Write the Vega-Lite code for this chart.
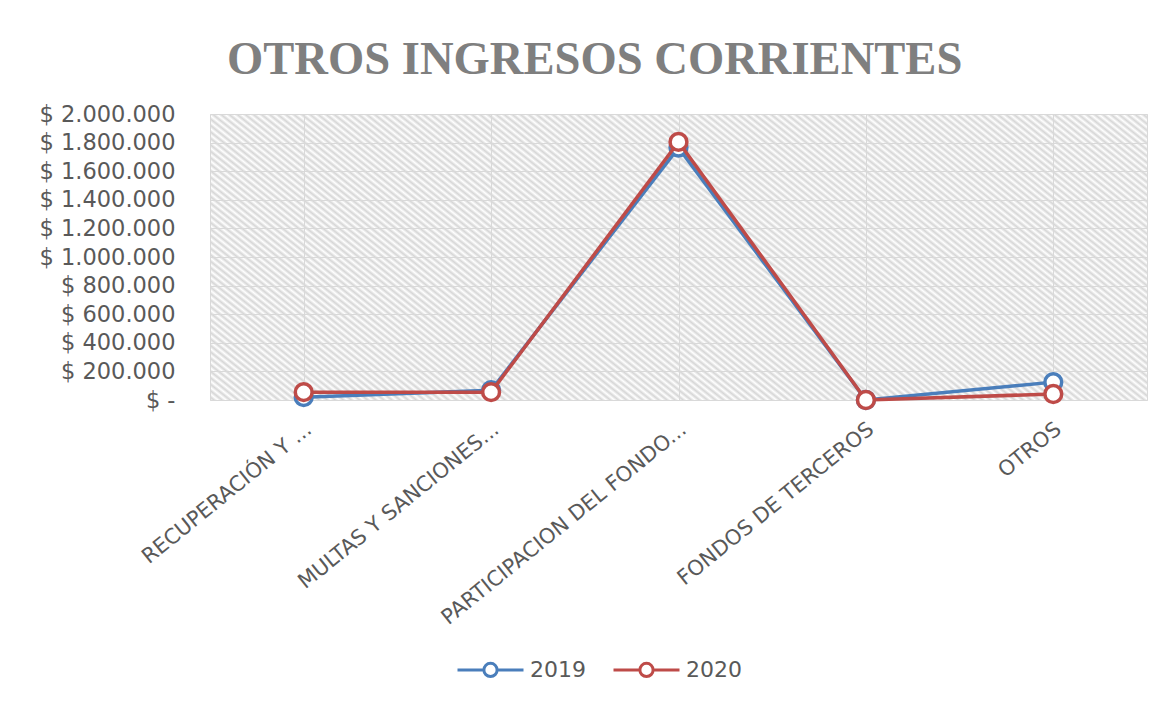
{
  "$schema": "https://vega.github.io/schema/vega-lite/v6.json",
  "width": 937,
  "height": 286,
  "autosize": {"type": "none"},
  "padding": {"left": 210, "top": 114, "right": 23, "bottom": 302},
  "background": "white",
  "title": {
    "text": "OTROS INGRESOS CORRIENTES",
    "anchor": "start",
    "frame": "group",
    "dx": 17,
    "dy": 57,
    "offset": 39,
    "baseline": "alphabetic",
    "font": "Liberation Serif",
    "fontSize": 46.6,
    "fontWeight": "bold",
    "color": "#7f7f7f"
  },
  "config": {
    "view": {
      "stroke": "#d9d9d9",
      "strokeWidth": 1,
      "fill": {
        "gradient": "linear",
        "x1": 0, "y1": 1, "x2": 1.2059, "y2": 0.5399,
        "stops": [
          {"offset":0,"color":"#fff"},{"offset":0.003125,"color":"#d6d6d6"},{"offset":0.00625,"color":"#fff"},{"offset":0.009375,"color":"#d6d6d6"},{"offset":0.0125,"color":"#fff"},{"offset":0.015625,"color":"#d6d6d6"},{"offset":0.01875,"color":"#fff"},{"offset":0.021875,"color":"#d6d6d6"},{"offset":0.025,"color":"#fff"},{"offset":0.028125,"color":"#d6d6d6"},{"offset":0.03125,"color":"#fff"},{"offset":0.034375,"color":"#d6d6d6"},{"offset":0.0375,"color":"#fff"},{"offset":0.040625,"color":"#d6d6d6"},{"offset":0.04375,"color":"#fff"},{"offset":0.046875,"color":"#d6d6d6"},{"offset":0.05,"color":"#fff"},{"offset":0.053125,"color":"#d6d6d6"},{"offset":0.05625,"color":"#fff"},{"offset":0.059375,"color":"#d6d6d6"},{"offset":0.0625,"color":"#fff"},{"offset":0.065625,"color":"#d6d6d6"},{"offset":0.06875,"color":"#fff"},{"offset":0.071875,"color":"#d6d6d6"},{"offset":0.075,"color":"#fff"},{"offset":0.078125,"color":"#d6d6d6"},{"offset":0.08125,"color":"#fff"},{"offset":0.084375,"color":"#d6d6d6"},{"offset":0.0875,"color":"#fff"},{"offset":0.090625,"color":"#d6d6d6"},{"offset":0.09375,"color":"#fff"},{"offset":0.096875,"color":"#d6d6d6"},
          {"offset":0.1,"color":"#fff"},{"offset":0.103125,"color":"#d6d6d6"},{"offset":0.10625,"color":"#fff"},{"offset":0.109375,"color":"#d6d6d6"},{"offset":0.1125,"color":"#fff"},{"offset":0.115625,"color":"#d6d6d6"},{"offset":0.11875,"color":"#fff"},{"offset":0.121875,"color":"#d6d6d6"},{"offset":0.125,"color":"#fff"},{"offset":0.128125,"color":"#d6d6d6"},{"offset":0.13125,"color":"#fff"},{"offset":0.134375,"color":"#d6d6d6"},{"offset":0.1375,"color":"#fff"},{"offset":0.140625,"color":"#d6d6d6"},{"offset":0.14375,"color":"#fff"},{"offset":0.146875,"color":"#d6d6d6"},{"offset":0.15,"color":"#fff"},{"offset":0.153125,"color":"#d6d6d6"},{"offset":0.15625,"color":"#fff"},{"offset":0.159375,"color":"#d6d6d6"},{"offset":0.1625,"color":"#fff"},{"offset":0.165625,"color":"#d6d6d6"},{"offset":0.16875,"color":"#fff"},{"offset":0.171875,"color":"#d6d6d6"},{"offset":0.175,"color":"#fff"},{"offset":0.178125,"color":"#d6d6d6"},{"offset":0.18125,"color":"#fff"},{"offset":0.184375,"color":"#d6d6d6"},{"offset":0.1875,"color":"#fff"},{"offset":0.190625,"color":"#d6d6d6"},{"offset":0.19375,"color":"#fff"},{"offset":0.196875,"color":"#d6d6d6"},
          {"offset":0.2,"color":"#fff"},{"offset":0.203125,"color":"#d6d6d6"},{"offset":0.20625,"color":"#fff"},{"offset":0.209375,"color":"#d6d6d6"},{"offset":0.2125,"color":"#fff"},{"offset":0.215625,"color":"#d6d6d6"},{"offset":0.21875,"color":"#fff"},{"offset":0.221875,"color":"#d6d6d6"},{"offset":0.225,"color":"#fff"},{"offset":0.228125,"color":"#d6d6d6"},{"offset":0.23125,"color":"#fff"},{"offset":0.234375,"color":"#d6d6d6"},{"offset":0.2375,"color":"#fff"},{"offset":0.240625,"color":"#d6d6d6"},{"offset":0.24375,"color":"#fff"},{"offset":0.246875,"color":"#d6d6d6"},{"offset":0.25,"color":"#fff"},{"offset":0.253125,"color":"#d6d6d6"},{"offset":0.25625,"color":"#fff"},{"offset":0.259375,"color":"#d6d6d6"},{"offset":0.2625,"color":"#fff"},{"offset":0.265625,"color":"#d6d6d6"},{"offset":0.26875,"color":"#fff"},{"offset":0.271875,"color":"#d6d6d6"},{"offset":0.275,"color":"#fff"},{"offset":0.278125,"color":"#d6d6d6"},{"offset":0.28125,"color":"#fff"},{"offset":0.284375,"color":"#d6d6d6"},{"offset":0.2875,"color":"#fff"},{"offset":0.290625,"color":"#d6d6d6"},{"offset":0.29375,"color":"#fff"},{"offset":0.296875,"color":"#d6d6d6"},
          {"offset":0.3,"color":"#fff"},{"offset":0.303125,"color":"#d6d6d6"},{"offset":0.30625,"color":"#fff"},{"offset":0.309375,"color":"#d6d6d6"},{"offset":0.3125,"color":"#fff"},{"offset":0.315625,"color":"#d6d6d6"},{"offset":0.31875,"color":"#fff"},{"offset":0.321875,"color":"#d6d6d6"},{"offset":0.325,"color":"#fff"},{"offset":0.328125,"color":"#d6d6d6"},{"offset":0.33125,"color":"#fff"},{"offset":0.334375,"color":"#d6d6d6"},{"offset":0.3375,"color":"#fff"},{"offset":0.340625,"color":"#d6d6d6"},{"offset":0.34375,"color":"#fff"},{"offset":0.346875,"color":"#d6d6d6"},{"offset":0.35,"color":"#fff"},{"offset":0.353125,"color":"#d6d6d6"},{"offset":0.35625,"color":"#fff"},{"offset":0.359375,"color":"#d6d6d6"},{"offset":0.3625,"color":"#fff"},{"offset":0.365625,"color":"#d6d6d6"},{"offset":0.36875,"color":"#fff"},{"offset":0.371875,"color":"#d6d6d6"},{"offset":0.375,"color":"#fff"},{"offset":0.378125,"color":"#d6d6d6"},{"offset":0.38125,"color":"#fff"},{"offset":0.384375,"color":"#d6d6d6"},{"offset":0.3875,"color":"#fff"},{"offset":0.390625,"color":"#d6d6d6"},{"offset":0.39375,"color":"#fff"},{"offset":0.396875,"color":"#d6d6d6"},
          {"offset":0.4,"color":"#fff"},{"offset":0.403125,"color":"#d6d6d6"},{"offset":0.40625,"color":"#fff"},{"offset":0.409375,"color":"#d6d6d6"},{"offset":0.4125,"color":"#fff"},{"offset":0.415625,"color":"#d6d6d6"},{"offset":0.41875,"color":"#fff"},{"offset":0.421875,"color":"#d6d6d6"},{"offset":0.425,"color":"#fff"},{"offset":0.428125,"color":"#d6d6d6"},{"offset":0.43125,"color":"#fff"},{"offset":0.434375,"color":"#d6d6d6"},{"offset":0.4375,"color":"#fff"},{"offset":0.440625,"color":"#d6d6d6"},{"offset":0.44375,"color":"#fff"},{"offset":0.446875,"color":"#d6d6d6"},{"offset":0.45,"color":"#fff"},{"offset":0.453125,"color":"#d6d6d6"},{"offset":0.45625,"color":"#fff"},{"offset":0.459375,"color":"#d6d6d6"},{"offset":0.4625,"color":"#fff"},{"offset":0.465625,"color":"#d6d6d6"},{"offset":0.46875,"color":"#fff"},{"offset":0.471875,"color":"#d6d6d6"},{"offset":0.475,"color":"#fff"},{"offset":0.478125,"color":"#d6d6d6"},{"offset":0.48125,"color":"#fff"},{"offset":0.484375,"color":"#d6d6d6"},{"offset":0.4875,"color":"#fff"},{"offset":0.490625,"color":"#d6d6d6"},{"offset":0.49375,"color":"#fff"},{"offset":0.496875,"color":"#d6d6d6"},
          {"offset":0.5,"color":"#fff"},{"offset":0.503125,"color":"#d6d6d6"},{"offset":0.50625,"color":"#fff"},{"offset":0.509375,"color":"#d6d6d6"},{"offset":0.5125,"color":"#fff"},{"offset":0.515625,"color":"#d6d6d6"},{"offset":0.51875,"color":"#fff"},{"offset":0.521875,"color":"#d6d6d6"},{"offset":0.525,"color":"#fff"},{"offset":0.528125,"color":"#d6d6d6"},{"offset":0.53125,"color":"#fff"},{"offset":0.534375,"color":"#d6d6d6"},{"offset":0.5375,"color":"#fff"},{"offset":0.540625,"color":"#d6d6d6"},{"offset":0.54375,"color":"#fff"},{"offset":0.546875,"color":"#d6d6d6"},{"offset":0.55,"color":"#fff"},{"offset":0.553125,"color":"#d6d6d6"},{"offset":0.55625,"color":"#fff"},{"offset":0.559375,"color":"#d6d6d6"},{"offset":0.5625,"color":"#fff"},{"offset":0.565625,"color":"#d6d6d6"},{"offset":0.56875,"color":"#fff"},{"offset":0.571875,"color":"#d6d6d6"},{"offset":0.575,"color":"#fff"},{"offset":0.578125,"color":"#d6d6d6"},{"offset":0.58125,"color":"#fff"},{"offset":0.584375,"color":"#d6d6d6"},{"offset":0.5875,"color":"#fff"},{"offset":0.590625,"color":"#d6d6d6"},{"offset":0.59375,"color":"#fff"},{"offset":0.596875,"color":"#d6d6d6"},
          {"offset":0.6,"color":"#fff"},{"offset":0.603125,"color":"#d6d6d6"},{"offset":0.60625,"color":"#fff"},{"offset":0.609375,"color":"#d6d6d6"},{"offset":0.6125,"color":"#fff"},{"offset":0.615625,"color":"#d6d6d6"},{"offset":0.61875,"color":"#fff"},{"offset":0.621875,"color":"#d6d6d6"},{"offset":0.625,"color":"#fff"},{"offset":0.628125,"color":"#d6d6d6"},{"offset":0.63125,"color":"#fff"},{"offset":0.634375,"color":"#d6d6d6"},{"offset":0.6375,"color":"#fff"},{"offset":0.640625,"color":"#d6d6d6"},{"offset":0.64375,"color":"#fff"},{"offset":0.646875,"color":"#d6d6d6"},{"offset":0.65,"color":"#fff"},{"offset":0.653125,"color":"#d6d6d6"},{"offset":0.65625,"color":"#fff"},{"offset":0.659375,"color":"#d6d6d6"},{"offset":0.6625,"color":"#fff"},{"offset":0.665625,"color":"#d6d6d6"},{"offset":0.66875,"color":"#fff"},{"offset":0.671875,"color":"#d6d6d6"},{"offset":0.675,"color":"#fff"},{"offset":0.678125,"color":"#d6d6d6"},{"offset":0.68125,"color":"#fff"},{"offset":0.684375,"color":"#d6d6d6"},{"offset":0.6875,"color":"#fff"},{"offset":0.690625,"color":"#d6d6d6"},{"offset":0.69375,"color":"#fff"},{"offset":0.696875,"color":"#d6d6d6"},
          {"offset":0.7,"color":"#fff"},{"offset":0.703125,"color":"#d6d6d6"},{"offset":0.70625,"color":"#fff"},{"offset":0.709375,"color":"#d6d6d6"},{"offset":0.7125,"color":"#fff"},{"offset":0.715625,"color":"#d6d6d6"},{"offset":0.71875,"color":"#fff"},{"offset":0.721875,"color":"#d6d6d6"},{"offset":0.725,"color":"#fff"},{"offset":0.728125,"color":"#d6d6d6"},{"offset":0.73125,"color":"#fff"},{"offset":0.734375,"color":"#d6d6d6"},{"offset":0.7375,"color":"#fff"},{"offset":0.740625,"color":"#d6d6d6"},{"offset":0.74375,"color":"#fff"},{"offset":0.746875,"color":"#d6d6d6"},{"offset":0.75,"color":"#fff"},{"offset":0.753125,"color":"#d6d6d6"},{"offset":0.75625,"color":"#fff"},{"offset":0.759375,"color":"#d6d6d6"},{"offset":0.7625,"color":"#fff"},{"offset":0.765625,"color":"#d6d6d6"},{"offset":0.76875,"color":"#fff"},{"offset":0.771875,"color":"#d6d6d6"},{"offset":0.775,"color":"#fff"},{"offset":0.778125,"color":"#d6d6d6"},{"offset":0.78125,"color":"#fff"},{"offset":0.784375,"color":"#d6d6d6"},{"offset":0.7875,"color":"#fff"},{"offset":0.790625,"color":"#d6d6d6"},{"offset":0.79375,"color":"#fff"},{"offset":0.796875,"color":"#d6d6d6"},
          {"offset":0.8,"color":"#fff"},{"offset":0.803125,"color":"#d6d6d6"},{"offset":0.80625,"color":"#fff"},{"offset":0.809375,"color":"#d6d6d6"},{"offset":0.8125,"color":"#fff"},{"offset":0.815625,"color":"#d6d6d6"},{"offset":0.81875,"color":"#fff"},{"offset":0.821875,"color":"#d6d6d6"},{"offset":0.825,"color":"#fff"},{"offset":0.828125,"color":"#d6d6d6"},{"offset":0.83125,"color":"#fff"},{"offset":0.834375,"color":"#d6d6d6"},{"offset":0.8375,"color":"#fff"},{"offset":0.840625,"color":"#d6d6d6"},{"offset":0.84375,"color":"#fff"},{"offset":0.846875,"color":"#d6d6d6"},{"offset":0.85,"color":"#fff"},{"offset":0.853125,"color":"#d6d6d6"},{"offset":0.85625,"color":"#fff"},{"offset":0.859375,"color":"#d6d6d6"},{"offset":0.8625,"color":"#fff"},{"offset":0.865625,"color":"#d6d6d6"},{"offset":0.86875,"color":"#fff"},{"offset":0.871875,"color":"#d6d6d6"},{"offset":0.875,"color":"#fff"},{"offset":0.878125,"color":"#d6d6d6"},{"offset":0.88125,"color":"#fff"},{"offset":0.884375,"color":"#d6d6d6"},{"offset":0.8875,"color":"#fff"},{"offset":0.890625,"color":"#d6d6d6"},{"offset":0.89375,"color":"#fff"},{"offset":0.896875,"color":"#d6d6d6"},
          {"offset":0.9,"color":"#fff"},{"offset":0.903125,"color":"#d6d6d6"},{"offset":0.90625,"color":"#fff"},{"offset":0.909375,"color":"#d6d6d6"},{"offset":0.9125,"color":"#fff"},{"offset":0.915625,"color":"#d6d6d6"},{"offset":0.91875,"color":"#fff"},{"offset":0.921875,"color":"#d6d6d6"},{"offset":0.925,"color":"#fff"},{"offset":0.928125,"color":"#d6d6d6"},{"offset":0.93125,"color":"#fff"},{"offset":0.934375,"color":"#d6d6d6"},{"offset":0.9375,"color":"#fff"},{"offset":0.940625,"color":"#d6d6d6"},{"offset":0.94375,"color":"#fff"},{"offset":0.946875,"color":"#d6d6d6"},{"offset":0.95,"color":"#fff"},{"offset":0.953125,"color":"#d6d6d6"},{"offset":0.95625,"color":"#fff"},{"offset":0.959375,"color":"#d6d6d6"},{"offset":0.9625,"color":"#fff"},{"offset":0.965625,"color":"#d6d6d6"},{"offset":0.96875,"color":"#fff"},{"offset":0.971875,"color":"#d6d6d6"},{"offset":0.975,"color":"#fff"},{"offset":0.978125,"color":"#d6d6d6"},{"offset":0.98125,"color":"#fff"},{"offset":0.984375,"color":"#d6d6d6"},{"offset":0.9875,"color":"#fff"},{"offset":0.990625,"color":"#d6d6d6"},{"offset":0.99375,"color":"#fff"},{"offset":0.996875,"color":"#d6d6d6"},
          {"offset":1,"color":"#fff"}
        ]
      }
    },
    "font": "DejaVu Sans"
  },
  "data": {
    "values": [
      {"categoria": "RECUPERACIÓN Y ...", "anio": "2019", "valor": 20000},
      {"categoria": "MULTAS Y SANCIONES...", "anio": "2019", "valor": 68000},
      {"categoria": "PARTICIPACION DEL FONDO...", "anio": "2019", "valor": 1765000},
      {"categoria": "FONDOS DE TERCEROS", "anio": "2019", "valor": 0},
      {"categoria": "OTROS", "anio": "2019", "valor": 125000},
      {"categoria": "RECUPERACIÓN Y ...", "anio": "2020", "valor": 55000},
      {"categoria": "MULTAS Y SANCIONES...", "anio": "2020", "valor": 55000},
      {"categoria": "PARTICIPACION DEL FONDO...", "anio": "2020", "valor": 1805000},
      {"categoria": "FONDOS DE TERCEROS", "anio": "2020", "valor": 0},
      {"categoria": "OTROS", "anio": "2020", "valor": 42000}
    ]
  },
  "encoding": {
    "y": {
      "field": "valor",
      "type": "quantitative",
      "scale": {"domain": [0, 2000000], "nice": false, "zero": true},
      "axis": {
        "title": null,
        "values": [0, 200000, 400000, 600000, 800000, 1000000, 1200000, 1400000, 1600000, 1800000, 2000000],
        "labelExpr": "datum.value == 0 ? '$ -' : '$ ' + replace(replace(format(datum.value, ',d'), ',', '.'), ',', '.')",
        "domain": false,
        "ticks": false,
        "grid": true,
        "gridColor": "#d9d9d9",
        "gridWidth": 1,
        "labelPadding": 35,
        "labelFont": "DejaVu Sans",
        "labelFontSize": 22.5,
        "labelColor": "#595959"
      }
    },
    "color": {
      "field": "anio",
      "type": "nominal",
      "scale": {"domain": ["2019", "2020"], "range": ["#4A7EBB", "#BE4B48"]},
      "legend": {
        "title": null,
        "orient": "none",
        "legendX": 246,
        "legendY": 521,
        "direction": "horizontal",
        "symbolType": "M-1,0L-0.2,0M0.2,0L1,0M-0.2,0A0.2,0.2 0 1,0 0.2,0A0.2,0.2 0 1,0 -0.2,0",
        "symbolSize": 4356,
        "symbolStrokeWidth": 3,
        "symbolOpacity": 1,
        "labelFont": "DejaVu Sans",
        "labelFontSize": 22,
        "labelColor": "#595959",
        "labelOffset": 5,
        "columnPadding": 21,
        "encode": {"symbols": {"update": {"fill": {"value": "white"}, "opacity": {"value": 1}}}}
      }
    }
  },
  "layer": [
    {
      "transform": [{"filter": "datum.anio == '2019'"}],
      "mark": {"type": "line", "strokeWidth": 3.5},
      "encoding": {
        "x": {
          "field": "categoria",
          "type": "nominal",
          "sort": null,
          "scale": {"paddingInner": 0, "paddingOuter": 0},
          "axis": {
            "title": null,
            "labelAngle": -39,
            "labelAlign": "right",
            "labelBaseline": "top",
            "labelOffset": -2,
            "labelPadding": 18,
            "labelFont": "DejaVu Sans",
            "labelFontSize": 21,
            "labelColor": "#595959",
            "labelLimit": 400,
            "ticks": false,
            "domain": false,
            "grid": true,
            "bandPosition": 0.5,
            "gridColor": "#d9d9d9"
          }
        }
      }
    },
    {
      "transform": [{"filter": "datum.anio == '2019'"}],
      "mark": {"type": "point", "shape": "circle", "filled": false, "size": 283, "strokeWidth": 3.5, "opacity": 1},
      "encoding": {
        "x": {
          "field": "categoria",
          "type": "nominal",
          "sort": null,
          "axis": {
            "orient": "top",
            "labels": false,
            "ticks": false,
            "domain": false,
            "title": null,
            "grid": true,
            "bandPosition": 0,
            "gridColor": "#d9d9d9"
          }
        },
        "fill": {"value": "white"}
      }
    },
    {
      "transform": [{"filter": "datum.anio == '2020'"}],
      "mark": {"type": "line", "strokeWidth": 3.5},
      "encoding": {
        "x": {"field": "categoria", "type": "nominal", "sort": null, "axis": null}
      }
    },
    {
      "transform": [{"filter": "datum.anio == '2020'"}],
      "mark": {"type": "point", "shape": "circle", "filled": false, "size": 283, "strokeWidth": 3.5, "opacity": 1},
      "encoding": {
        "x": {"field": "categoria", "type": "nominal", "sort": null, "axis": null},
        "fill": {"value": "white"}
      }
    }
  ],
  "resolve": {"axis": {"x": "independent"}}
}
